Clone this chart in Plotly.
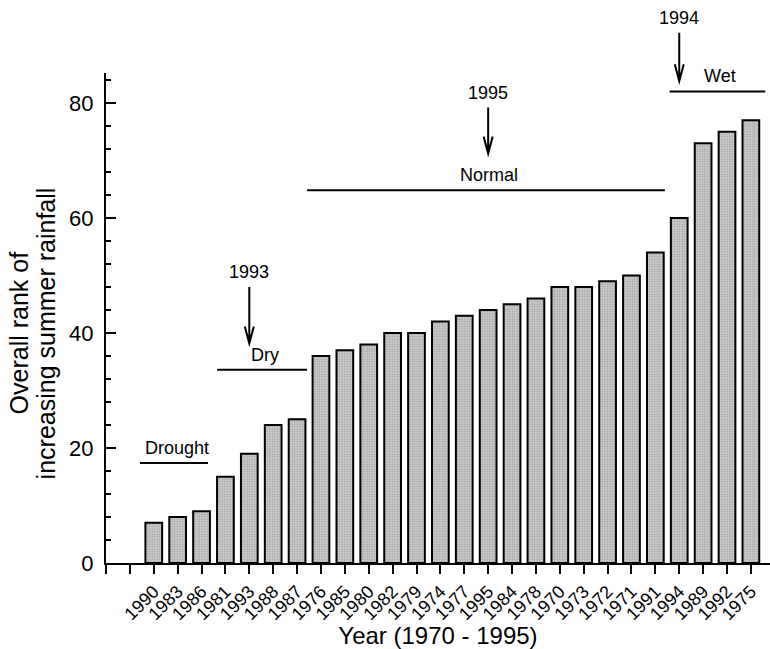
import plotly.graph_objects as go

# ---- data ----
years = ["1990", "1983", "1986", "1981", "1993", "1988", "1987", "1976", "1985",
         "1980", "1982", "1979", "1974", "1977", "1995", "1984", "1978", "1970",
         "1973", "1972", "1971", "1991", "1994", "1989", "1992", "1975"]
ranks = [7, 8, 9, 15, 19, 24, 25, 36, 37, 38, 40, 40, 42, 43, 44, 45, 46, 48,
         48, 49, 50, 54, 60, 73, 75, 77]

# rainfall classes: (label, start position, end position, level)
groups = [
    ("Drought", 1.42, 4.27, 17.4),
    ("Dry", 4.65, 8.42, 33.6),
    ("Normal", 8.42, 23.4, 64.8),
    ("Wet", 23.6, 27.6, 82.0),
]
# highlighted years: (year, label level, arrow tail level, arrow head level)
highlights = [
    ("1993", 50.6, 48.0, 38.2),
    ("1995", 81.8, 79.2, 71.2),
    ("1994", 94.8, 92.2, 83.8),
]
y_title_lines = ["Overall rank of", "increasing summer rainfall"]
x_title = "Year (1970 - 1995)"

FONT = "Liberation Sans, Arial, sans-serif"
XMAX, YMAX = 27.8, 85.2
L, R, T, B, W, H = 106, 0, 73, 83, 770, 649
PW, PH = W - L - R, H - T - B
offset = 2  # first bar sits at position 2 (slot 1 is empty)
xpos = [i + offset for i in range(len(years))]


def px_x(v):
    return v / XMAX


def px_y(v):
    return v / YMAX


fig = go.Figure()
fig.add_trace(go.Bar(
    x=xpos, y=ranks, width=0.7,
    marker=dict(
        color="#bdbdbd",
        line=dict(color="black", width=2),
        pattern=dict(shape=".", fgcolor="#767676", bgcolor="#d2d2d2",
                     size=2.5, solidity=0.45, fillmode="overlay"),
    ),
    showlegend=False,
))

shapes = []
annotations = []
for label, x0, x1, lvl in groups:
    shapes.append(dict(type="line", xref="x", yref="y", x0=x0, x1=x1, y0=lvl, y1=lvl,
                       line=dict(color="black", width=2)))
    annotations.append(dict(x=(x0 + x1) / 2, y=lvl, xref="x", yref="y", text=label,
                            showarrow=False, xanchor="center", yanchor="bottom", yshift=3,
                            xshift=3, font=dict(family=FONT, size=18, color="black")))

# arrow head half-width / length in paper units
dx = 4.5 / PW
dy = 17.0 / PH
for yr, ty, tail, head in highlights:
    p = years.index(yr) + offset
    xp = px_x(p)
    annotations.append(dict(x=xp, y=px_y(ty), xref="paper", yref="paper", text=yr,
                            showarrow=False, xanchor="center", yanchor="middle",
                            font=dict(family=FONT, size=18, color="black")))
    yt, yh = px_y(tail), px_y(head)
    path = (f"M {xp},{yt} L {xp},{yh} "
            f"M {xp - dx},{yh + dy} L {xp},{yh} L {xp + dx},{yh + dy}")
    shapes.append(dict(type="path", xref="paper", yref="paper", path=path,
                       line=dict(color="black", width=2)))

# y-axis title (two lines, tight line spacing)
for i, line in enumerate(y_title_lines):
    annotations.append(dict(
        x=(19 + 27 * i - L) / PW, y=(W - W + 566 - 335) / PH,
        xref="paper", yref="paper", xanchor="center", yanchor="middle",
        text=line, textangle=-90, showarrow=False,
        font=dict(family=FONT, size=25, color="black"),
    ))

fig.update_layout(
    width=W, height=H,
    margin=dict(l=L, r=R, t=T, b=B),
    paper_bgcolor="white", plot_bgcolor="white",
    font=dict(family=FONT, color="black"),
    shapes=shapes, annotations=annotations,
)
fig.update_xaxes(
    range=[0, XMAX], showgrid=False, zeroline=False,
    showline=True, linecolor="black", linewidth=2,
    tickmode="array", tickvals=list(range(0, len(years) + offset)),
    ticktext=["", ""] + years, tickangle=-45,
    ticks="outside", ticklen=9, tickwidth=2, tickcolor="black",
    tickfont=dict(family=FONT, size=18, color="black"),
    title=dict(text=x_title, font=dict(family=FONT, size=24), standoff=8),
)
fig.update_yaxes(
    range=[0, YMAX], showgrid=False, zeroline=False,
    showline=True, linecolor="black", linewidth=2,
    tickvals=[0, 20, 40, 60, 80],
    ticks="inside", ticklen=10, tickwidth=2, tickcolor="black",
    minor=dict(dtick=4, ticks="inside", ticklen=5, tickwidth=1.5, tickcolor="black"),
    tickfont=dict(family=FONT, size=22, color="black"),
    ticklabelstandoff=6,
)

fig.write_html("out.html")
